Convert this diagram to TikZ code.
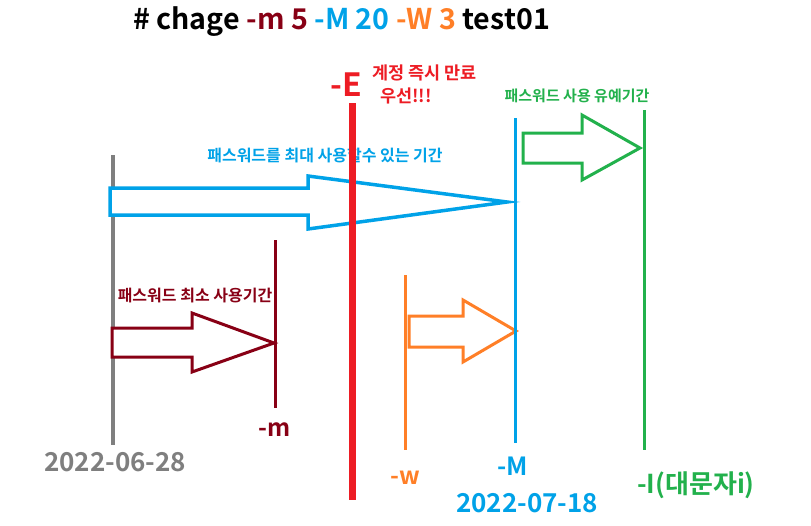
\documentclass[tikz,border=0pt]{standalone}
\usepackage{fontspec}
\setmainfont{Noto Sans CJK KR}[BoldFont={Noto Sans CJK KR Bold}]
\definecolor{pgray}{HTML}{7F7F7F}
\definecolor{pdred}{HTML}{880015}
\definecolor{pred}{HTML}{ED1C24}
\definecolor{porange}{HTML}{FF7F27}
\definecolor{pgreen}{HTML}{22B14C}
\definecolor{pblue}{HTML}{00A2E8}
\begin{document}
\begin{tikzpicture}[x=1pt,y=-1pt,
  lbl/.style={inner sep=0pt,font=\bfseries},
  vline/.style={line width=3pt},
  blockarrow/.style={line width=3pt,line join=miter}]
\useasboundingbox[fill=white] (0,0) rectangle (811,525);
% title
\node[lbl,font=\bfseries\fontsize{28.6}{32}\selectfont,anchor=west] (title) at (133,22)
  {\# chage \textcolor{pdred}{-m 5} \textcolor{pblue}{-M 20} \textcolor{porange}{-W 3} test01};
% gray start line
\coordinate (g1) at (113,155); \coordinate (g2) at (113,445);
\draw[vline,pgray,line width=4pt] (g1) -- (g2);
\node[lbl,pgray,font=\bfseries\fontsize{26}{30}\selectfont] (d1) at (115,462) {2022-06-28};
% blue big arrow
\draw[blockarrow,draw=pblue,fill=white,line width=3.5pt] (110,188) -- (308,188) -- (308,176) -- (507,202) -- (308,229) -- (308,215) -- (110,215) -- cycle;
\node[lbl,pblue,font=\bfseries\fontsize{16}{19}\selectfont] (bt) at (325,155) {패스워드를 최대 사용할수 있는 기간};
% dark red -m
\coordinate (m1) at (275,240); \coordinate (m2) at (275,408);
\draw[vline,pdred] (m1) -- (m2);
\draw[blockarrow,draw=pdred,fill=white] (112,328) -- (192,328) -- (192,313) -- (274,343) -- (192,372) -- (192,357) -- (112,357) -- cycle;
\node[lbl,pdred,font=\bfseries\fontsize{16}{19}\selectfont] (mt) at (195,296) {패스워드 최소 사용기간};
\node[lbl,pdred,font=\bfseries\fontsize{24}{26}\selectfont] (ml) at (275,430) {-m};
% orange -w
\coordinate (w1) at (405,275); \coordinate (w2) at (405,450);
\draw[vline,porange] (w1) -- (w2);
\draw[blockarrow,draw=porange,fill=white] (409,316) -- (463,316) -- (463,300) -- (516,331) -- (463,362) -- (463,347) -- (409,347) -- cycle;
\node[lbl,porange,font=\bfseries\fontsize{24}{26}\selectfont] (wl) at (405,478) {-w};
% blue -M
\coordinate (M1) at (515,118); \coordinate (M2) at (515,443);
\draw[vline,pblue] (M1) -- (M2);
\node[lbl,pblue,font=\bfseries\fontsize{25}{28}\selectfont] (Ml) at (513,466) {-M};
\node[lbl,pblue,font=\bfseries\fontsize{26}{30}\selectfont] (d2) at (527,503) {2022-07-18};
% green -I
\coordinate (I1) at (644,110); \coordinate (I2) at (644,450);
\draw[vline,pgreen] (I1) -- (I2);
\draw[blockarrow,draw=pgreen,fill=white] (523,133) -- (582,133) -- (582,115) -- (640,148) -- (582,180) -- (582,163) -- (523,163) -- cycle;
\node[lbl,pgreen,font=\bfseries\fontsize{15}{18}\selectfont] (gt) at (577,96) {패스워드 사용 유예기간};
\node[lbl,pgreen,font=\bfseries\fontsize{26}{30}\selectfont] (Il) at (696,485) {-I(대문자i)};
% red -E
\coordinate (E1) at (352,103); \coordinate (E2) at (352,500);
\draw[pred,line width=7pt] (E1) -- (E2);
\node[lbl,pred,font=\bfseries\fontsize{32}{36}\selectfont] (El) at (346,85) {-E};
\node[lbl,pred,font=\bfseries\fontsize{17.5}{20}\selectfont,anchor=west] (Et1) at (372,73) {계정 즉시 만료};
\node[lbl,pred,font=\bfseries\fontsize{17.5}{20}\selectfont,anchor=west] (Et2) at (380,96) {우선!!!};
\end{tikzpicture}
\end{document}
